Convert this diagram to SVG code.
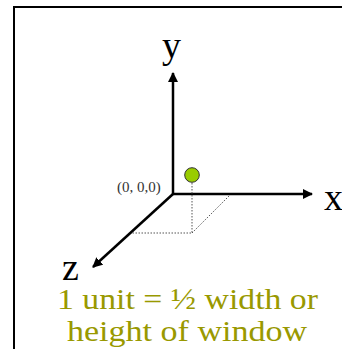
<svg xmlns="http://www.w3.org/2000/svg" width="342" height="349" viewBox="0 0 342 349">
<style>
.axis{stroke:#000;stroke-width:2.5;fill:none;marker-end:url(#ah)}
.dot{stroke:#555;stroke-width:1;stroke-dasharray:1.5,1.5;fill:none}
.lbl{font-family:"Liberation Serif",serif;font-size:38px;fill:#000}
.org{font-family:"Liberation Serif",serif;font-size:15px;fill:#333}
.note{font-family:"Liberation Serif",serif;font-size:30px;fill:#999900}
</style>
<defs>
<marker id="ah" viewBox="0 0 10 10" refX="9" refY="5" markerWidth="4" markerHeight="4" orient="auto" markerUnits="strokeWidth">
<path d="M0,0 L10,5 L0,10 z" fill="#000"/>
</marker>
</defs>
<path d="M14,349 V7 H342" fill="none" stroke="#000" stroke-width="2"/>
<g id="connectors">
<line class="axis" x1="173" y1="194" x2="173" y2="73"/>
<line class="axis" x1="173" y1="194" x2="312" y2="194"/>
<line class="axis" x1="173" y1="194" x2="93" y2="267"/>
<path class="dot" d="M192,183 V233 H131 M192,233 L230,195"/>
</g>
<g id="point"><circle cx="192" cy="175" r="7.3" fill="#99cc00" stroke="#333" stroke-width="1"/></g>
<g id="y-label"><text class="lbl" x="162" y="58">y</text></g>
<g id="x-label"><text class="lbl" x="324" y="210">x</text></g>
<g id="z-label"><text class="lbl" x="62" y="280">z</text></g>
<g id="origin"><text class="org" x="117" y="192">(0, 0,0)</text></g>
<g id="note"><text class="note" x="57" y="309" textLength="261" lengthAdjust="spacingAndGlyphs">1 unit = ½ width or</text><text class="note" x="67" y="341" textLength="240" lengthAdjust="spacingAndGlyphs">height of window</text></g>
</svg>
